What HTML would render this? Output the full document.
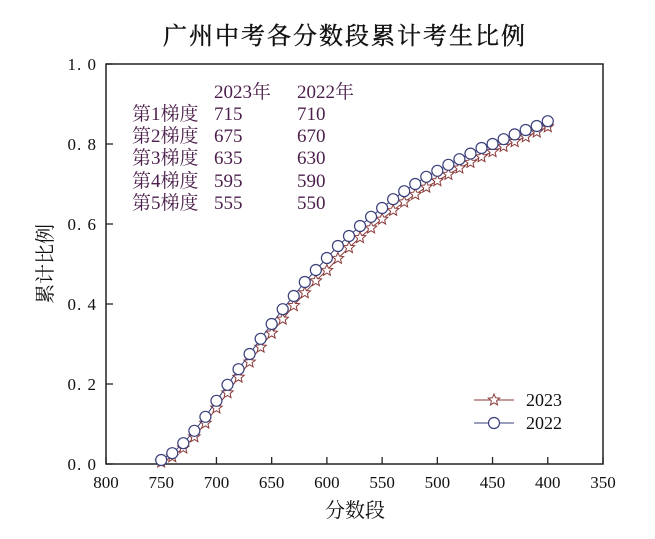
<!DOCTYPE html>
<html><head><meta charset="utf-8"><style>
body{margin:0;background:#fff;}
svg{display:block;font-family:"Liberation Serif","Noto Serif CJK SC",serif;}
</style></head><body>
<svg id="chart" width="655" height="539" viewBox="0 0 655 539" xmlns="http://www.w3.org/2000/svg">
<text x="345" y="44" text-anchor="middle" font-size="24" fill="#111" stroke="#111" stroke-width="0.4" letter-spacing="2">广州中考各分数段累计考生比例</text>
<rect x="106" y="64" width="497" height="400" fill="none" stroke="#222" stroke-width="1.5"/>
<g id="xticks"></g>
<g id="yticks"></g>
<text x="355" y="517" text-anchor="middle" font-size="20" fill="#111">分数段</text>
<text transform="translate(52,264) rotate(-90)" text-anchor="middle" font-size="20" fill="#111">累计比例</text>
<g fill="#4b1f4b" font-size="19">
<text x="214" y="98">2023年</text><text x="297" y="98">2022年</text>
<text x="132" y="120">第1梯度</text><text x="214" y="120">715</text><text x="297" y="120">710</text>
<text x="132" y="142">第2梯度</text><text x="214" y="142">675</text><text x="297" y="142">670</text>
<text x="132" y="164">第3梯度</text><text x="214" y="164">635</text><text x="297" y="164">630</text>
<text x="132" y="187">第4梯度</text><text x="214" y="187">595</text><text x="297" y="187">590</text>
<text x="132" y="209">第5梯度</text><text x="214" y="209">555</text><text x="297" y="209">550</text>
</g>
<g id="series"></g>
<g>
<g>
<line x1="474" y1="400" x2="514" y2="400" stroke="#8b3a3a" stroke-width="1"/>
<polygon id="legstar" fill="#fff" stroke="#8b3a3a" stroke-width="1"/>
<text x="526" y="406" font-size="18" fill="#111">2023</text></g>
<g>
<line x1="474" y1="423" x2="514" y2="423" stroke="#3a3f7a" stroke-width="1"/>
<circle cx="494" cy="423" r="5.5" fill="#fff" stroke="#3a3f7a" stroke-width="1.2"/>
<text x="526" y="429" font-size="18" fill="#111">2022</text></g>
</g>
</svg>
<script>
const scores = [750,740,730,720,710,700,690,680,670,660,650,640,630,620,610,600,590,580,570,560,550,540,530,520,510,500,490,480,470,460,450,440,430,420,410,400];
const values2022 = [0.010,0.027,0.052,0.083,0.118,0.158,0.198,0.237,0.275,0.313,0.350,0.387,0.420,0.455,0.485,0.515,0.545,0.570,0.595,0.618,0.640,0.662,0.682,0.700,0.718,0.733,0.748,0.762,0.776,0.790,0.800,0.812,0.824,0.835,0.845,0.857];
const values2023 = [0.005,0.018,0.040,0.068,0.102,0.140,0.178,0.217,0.255,0.292,0.327,0.362,0.396,0.428,0.458,0.484,0.514,0.541,0.566,0.590,0.612,0.634,0.655,0.674,0.692,0.708,0.724,0.740,0.754,0.768,0.781,0.794,0.806,0.818,0.830,0.843];
const xTicks = [800,750,700,650,600,550,500,450,400,350];
const yTicks = [0,0.2,0.4,0.6,0.8,1.0];
const NS="http://www.w3.org/2000/svg";
function X(v){return 106+(800-v)/450*497;}
function Y(v){return 464-v*400;}
function mk(tag,attrs,parent){const e=document.createElementNS(NS,tag);for(const k in attrs)e.setAttribute(k,attrs[k]);parent.appendChild(e);return e;}
const xg=document.getElementById('xticks'),yg=document.getElementById('yticks');
xTicks.forEach(t=>{const x=X(t);
 mk('line',{x1:x,y1:464,x2:x,y2:457,stroke:'#222','stroke-width':1.3},xg);
 const tx=mk('text',{x:x,y:488,'text-anchor':'middle','font-size':17,fill:'#111'},xg);tx.textContent=t;
 
 });
yTicks.forEach(t=>{const y=Y(t);
 mk('line',{x1:106,y1:y,x2:113,y2:y,stroke:'#222','stroke-width':1.3},yg);
 const tx=mk('text',{x:97,y:y+6,'text-anchor':'end','font-size':17,fill:'#111','letter-spacing':1},yg);tx.textContent=t.toFixed(1).replace('.','. ');
 
 });
function star(cx,cy,r){let p=[];for(let i=0;i<10;i++){const a=-Math.PI/2+i*Math.PI/5;const rr=i%2?r*0.45:r;p.push((cx+rr*Math.cos(a)).toFixed(1)+','+(cy+rr*Math.sin(a)).toFixed(1));}return p.join(' ');}
document.getElementById('legstar').setAttribute('points',star(494,400,6));
const sg=document.getElementById('series');
const g23=mk('g',{},sg);


mk('polyline',{points:scores.map((s,i)=>X(s)+','+Y(values2023[i])).join(' '),fill:'none',stroke:'#8b3a3a','stroke-width':1},g23);
const g22=mk('g',{},sg);


mk('polyline',{points:scores.map((s,i)=>X(s)+','+Y(values2022[i])).join(' '),fill:'none',stroke:'#3a3f7a','stroke-width':1},g22);
scores.forEach((s,i)=>{
 const st=mk('polygon',{points:star(X(s),Y(values2023[i]),6),fill:'#fff',stroke:'#8b3a3a','stroke-width':1},g23);
 
 
});
scores.forEach((s,i)=>{
 const c=mk('circle',{cx:X(s),cy:Y(values2022[i]),r:5.5,fill:'#fff',stroke:'#3a3f7a','stroke-width':1.2},g22);
 
 
});
</script>
</body></html>
